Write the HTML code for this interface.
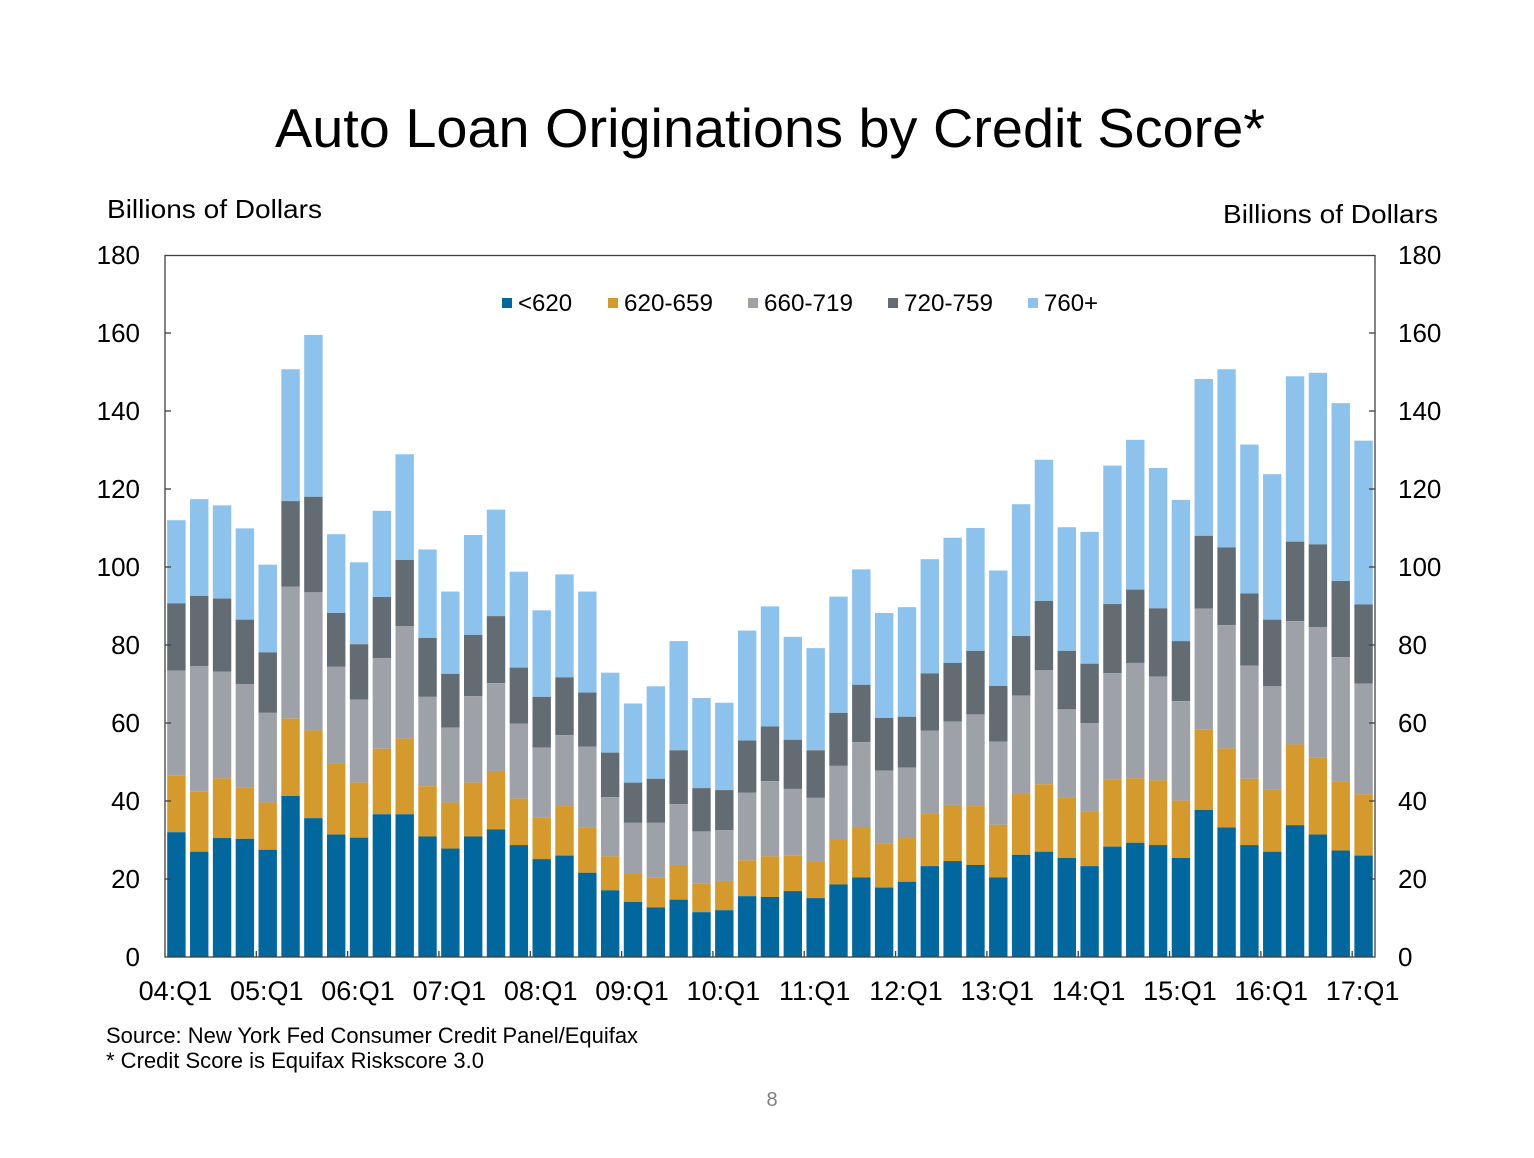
<!DOCTYPE html>
<html><head><meta charset="utf-8"><style>
html,body{margin:0;padding:0;background:#fff;}
svg{display:block;font-family:"Liberation Sans",Arial,sans-serif;}
</style></head><body>
<svg id="c" width="1534" height="1158" viewBox="0 0 1534 1158" xmlns="http://www.w3.org/2000/svg">
<rect width="1534" height="1158" fill="#fff"/>
<text x="770" y="147" font-size="55" text-anchor="middle" fill="#000" textLength="990" lengthAdjust="spacingAndGlyphs">Auto Loan Originations by Credit Score*</text>
<text x="107" y="218" font-size="26" fill="#000" textLength="215" lengthAdjust="spacingAndGlyphs">Billions of Dollars</text>
<text x="1223" y="223" font-size="26" fill="#000" textLength="215" lengthAdjust="spacingAndGlyphs">Billions of Dollars</text>
<g id="bars"></g>
<rect x="165" y="255.5" width="1210" height="701.5" fill="none" stroke="#404040" stroke-width="1.3"/>
<g id="ax" font-size="26" fill="#000"></g>
<g font-size="24" fill="#000">
<rect x="502" y="298" width="10" height="10" fill="#02679c"/><text x="518" y="311">&lt;620</text>
<rect x="608" y="298" width="10" height="10" fill="#d49a2e"/><text x="624" y="311" textLength="89" lengthAdjust="spacingAndGlyphs">620-659</text>
<rect x="748" y="298" width="10" height="10" fill="#9ea1a8"/><text x="764" y="311" textLength="89" lengthAdjust="spacingAndGlyphs">660-719</text>
<rect x="888" y="298" width="10" height="10" fill="#636b73"/><text x="904" y="311" textLength="89" lengthAdjust="spacingAndGlyphs">720-759</text>
<rect x="1028" y="298" width="10" height="10" fill="#8cc2ec"/><text x="1044" y="311">760+</text>
</g>
<text x="106" y="1043" font-size="22" fill="#000" textLength="532" lengthAdjust="spacingAndGlyphs">Source: New York Fed Consumer Credit Panel/Equifax</text>
<text x="106" y="1068" font-size="22" fill="#000" textLength="378" lengthAdjust="spacingAndGlyphs">* Credit Score is Equifax Riskscore 3.0</text>
<text x="772" y="1106" font-size="20" fill="#7f7f7f" text-anchor="middle">8</text>
</svg>
<script>
var d=[[112.0,90.7,73.4,46.5,32.0],[117.4,92.6,74.6,42.5,27.0],[115.8,91.9,73.2,45.8,30.5],[109.9,86.5,70.0,43.5,30.3],[100.6,78.1,62.6,39.6,27.5],[150.7,116.9,95.0,61.1,41.3],[159.5,118.0,93.5,58.1,35.6],[108.4,88.2,74.4,49.5,31.4],[101.2,80.2,66.0,44.7,30.6],[114.4,92.3,76.6,53.4,36.6],[128.9,101.8,84.8,56.0,36.6],[104.5,81.8,66.7,43.8,30.9],[93.7,72.6,58.8,39.6,27.8],[108.2,82.6,66.9,44.7,30.9],[114.7,87.4,70.2,47.7,32.7],[98.8,74.2,59.8,40.6,28.7],[88.9,66.7,53.7,35.8,25.1],[98.1,71.7,56.9,38.7,26.0],[93.7,67.8,53.9,33.1,21.6],[72.9,52.4,41.0,25.8,17.1],[65.0,44.7,34.4,21.4,14.1],[69.4,45.7,34.4,20.3,12.7],[81.0,53.0,39.2,23.6,14.7],[66.4,43.3,32.2,18.8,11.5],[65.2,42.8,32.5,19.5,12.0],[83.7,55.5,42.1,24.8,15.6],[89.9,59.1,45.1,25.8,15.4],[82.1,55.7,43.1,26.1,16.9],[79.2,53.0,40.8,24.6,15.1],[92.4,62.6,49.0,30.0,18.6],[99.4,69.8,55.1,33.2,20.4],[88.2,61.3,47.8,29.0,17.8],[89.7,61.6,48.6,30.5,19.3],[102.0,72.7,58.0,36.9,23.3],[107.5,75.4,60.4,39.0,24.6],[110.0,78.5,62.2,38.7,23.6],[99.1,69.5,55.2,33.9,20.4],[116.1,82.3,67.0,41.8,26.2],[127.5,91.3,73.5,44.3,27.0],[110.2,78.5,63.5,41.0,25.4],[109.0,75.2,60.0,37.2,23.3],[126.0,90.5,72.8,45.6,28.3],[132.6,94.2,75.4,45.8,29.3],[125.4,89.4,71.9,45.3,28.7],[117.2,81.0,65.6,40.1,25.4],[148.2,108.0,89.3,58.4,37.7],[150.7,105.0,85.1,53.5,33.2],[131.4,93.2,74.7,45.7,28.7],[123.8,86.5,69.4,43.0,27.0],[148.9,106.5,86.1,54.5,33.8],[149.8,105.8,84.6,51.2,31.4],[142.0,96.4,76.9,45.1,27.3],[132.4,90.4,70.1,41.7,26.0]];
var cols=["#8cc2ec","#636b73","#9ea1a8","#d49a2e","#02679c"];
var ns="http://www.w3.org/2000/svg",g=document.getElementById("bars"),ax=document.getElementById("ax");
function Y(v){return 957-v*3.9;}
var slot=1210/53;
function el(p,t,a,txt){var e=document.createElementNS(ns,t);for(var k in a)e.setAttribute(k,a[k]);if(txt)e.textContent=txt;p.appendChild(e);return e;}
d.forEach(function(b,i){var x=165+i*slot+2.2;for(var j=0;j<5;j++){var top=Y(b[j]),bot=j<4?Y(b[j+1]):957;el(g,"rect",{x:x.toFixed(2),y:top.toFixed(2),width:18.4,height:(bot-top).toFixed(2),fill:cols[j]});}});
for(var v=0;v<=180;v+=20){var y=Y(v);el(ax,"text",{x:140,y:y+9,"text-anchor":"end"},""+v);el(ax,"text",{x:1398,y:y+9},""+v);
if(v>0&&v<180){el(ax,"line",{x1:165,x2:171,y1:y,y2:y,stroke:"#404040","stroke-width":1.3});el(ax,"line",{x1:1369,x2:1375,y1:y,y2:y,stroke:"#404040","stroke-width":1.3});}}
for(var k=0;k<=13;k++){var cx=165+(k*4+0.5)*slot;var yr=(k+4<10?"0":"")+(k+4);el(ax,"text",{x:cx-1,y:1000,"text-anchor":"middle","font-size":27},yr+":Q1");
if(k>0){var tx=165+k*4*slot;el(ax,"line",{x1:tx,x2:tx,y1:951,y2:957,stroke:"#404040","stroke-width":1.3});}}
</script>
</body></html>
